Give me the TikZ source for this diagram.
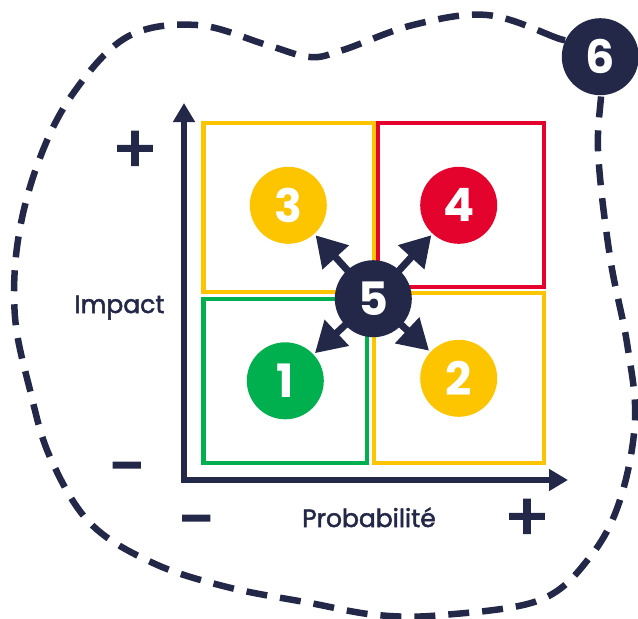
\documentclass[tikz,border=0pt]{standalone}
\usepackage{fontspec}
\setmainfont{Poppins}
\newfontfamily\labelfont[FakeBold=2]{Poppins}
\newfontfamily\signfont[FakeBold=3]{Poppins}
\usetikzlibrary{arrows.meta}
\definecolor{navy}{HTML}{232748}
\definecolor{riskyellow}{HTML}{FDC400}
\definecolor{riskred}{HTML}{E4032D}
\definecolor{riskgreen}{HTML}{00B04E}
\tikzstyle{zone} = [line width=4.2pt]
\tikzstyle{risk} = [circle, minimum size=77pt, inner sep=0pt, outer sep=0pt, text=white, font=\fontsize{46}{46}\selectfont\bfseries]
\tikzstyle{spoke} = [draw=navy, line width=7pt, -{Triangle[length=30pt,width=34pt]}, shorten >=2pt]
\tikzstyle{axisline} = [draw=navy, line width=6.5pt, {Triangle[length=19pt,width=21pt]}-{Triangle[length=19pt,width=21pt]}]
\tikzstyle{axislabel} = [text=navy, font=\labelfont\fontsize{25}{25}\selectfont, inner sep=0pt, anchor=base]
\tikzstyle{signmark} = [text=navy, font=\signfont\fontsize{66}{66}\selectfont, inner sep=0pt]
\tikzstyle{blob} = [draw=navy, line width=6.5pt, dash pattern=on 21pt off 13pt]

\begin{document}
\begin{tikzpicture}[x=1pt, y=-1pt]
	\useasboundingbox (0,0) rectangle (638,619);
	
	% contour
	\draw [blob] plot[smooth cycle, tension=0.6] coordinates {(600,57) (557,38) (487,15) (413,25) (343,50) (310,57) (267,45) (197,25) (127,37) (72,95) (38,163) (18,240) (15,317) (30,390) (50,457) (90,523) (153,563) (227,587) (310,603) (377,615) (443,615) (540,600) (590,557) (620,500) (635,420) (627,343) (610,257) (598,150)};
	\node (R6) [risk, fill=navy] at (600.3,56.7) {6};
	
	% quadrants
	\draw [zone, riskyellow] (203.5,123) rectangle (373.7,292);
	\draw [zone, riskred] (378,123) rectangle (543.7,287);
	\draw [zone, riskgreen] (203.5,298.7) rectangle (367,463);
	\draw [zone, riskyellow] (373.7,293) rectangle (543.7,463);
	
	% axes
	\coordinate (O) at (184,480);
	\coordinate (Ytip) at (184,103);
	\coordinate (Xtip) at (568,480);
	\draw [axisline] (Ytip) -- (O) -- (Xtip);
	
	\node (Lp) [axislabel] at (119.5,313) {Impact};
	\node (Lx) [axislabel] at (369,527) {Probabilité};
	\node (Yplus) [signmark] at (135,152) {+};
	\node (Yminus) [signmark] at (128,476) {-};
	\node (Xminus) [signmark] at (197.5,529) {-};
	\node (Xplus) [signmark] at (527,520) {+};
	
	% risks
	\node (R1) [risk, fill=riskgreen] at (285.3,380.8) {1};
	\node (R2) [risk, fill=riskyellow] at (458.7,378.3) {2};
	\node (R3) [risk, fill=riskyellow] at (288.3,205.3) {3};
	\node (R4) [risk, fill=riskred] at (458.7,205.3) {4};
	\coordinate (c5) at (373.3,298.7);
	
	\draw [spoke] (c5) -- (R1);
	\draw [spoke] (c5) -- (R2);
	\draw [spoke] (c5) -- (R3);
	\draw [spoke] (c5) -- (R4);
	
	\node (R5) [risk, fill=navy] at (c5) {5};
\end{tikzpicture}
\end{document}
